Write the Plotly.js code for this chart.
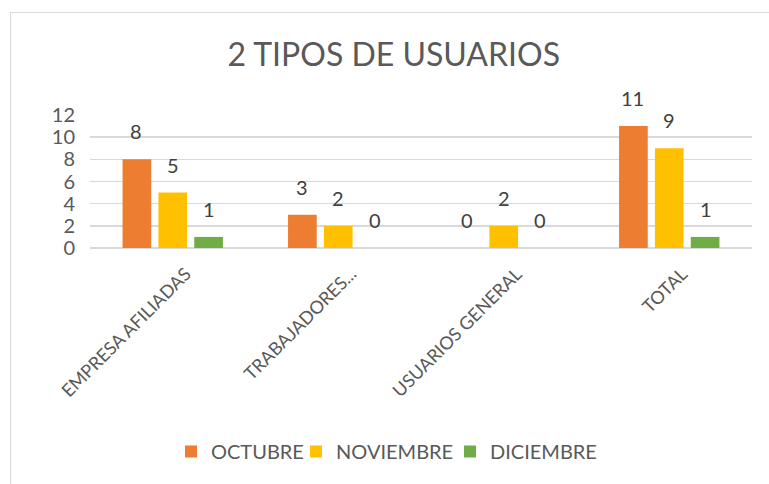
<!DOCTYPE html>
<html>
<head>
<meta charset="utf-8">
<script src="https://cdn.plot.ly/plotly-3.0.1.min.js"></script>
<style>
  html, body { margin: 0; padding: 0; background: #fff; }
  #wrap { position: relative; width: 769px; height: 484px; overflow: hidden; }
  #frame { position: absolute; left: 10px; top: 12px; width: 800px; height: 500px;
           border-left: 1px solid #d9d9d9; border-top: 1px solid #d9d9d9; pointer-events: none; }
  #chart { position: absolute; left: 0; top: 0; width: 769px; height: 484px; }
</style>
</head>
<body>
<div id="wrap">
  <div id="chart"></div>
  <div id="frame"></div>
</div>
<script>
const categories = ["EMPRESA AFILIADAS", "TRABAJADORES...", "USUARIOS GENERAL", "TOTAL"];
const seriesNames = ["OCTUBRE", "NOVIEMBRE", "DICIEMBRE"];
const octubre = [8, 3, 0, 11];
const noviembre = [5, 2, 2, 9];
const diciembre = [1, 0, 0, 1];
const colors = ["#ED7D31", "#FFC000", "#70AD47"];
const yTicks = [0, 2, 4, 6, 8, 10, 12];

const FONT = "Lato, 'Open Sans', sans-serif";
const TXT = "#595959";
const allSeries = [octubre, noviembre, diciembre];
const legendIds = ["legend", "legend2", "legend3"];
const legendLeftPx = [171, 296, 450];

const traces = allSeries.map((vals, i) => ({
  type: "bar",
  name: seriesNames[i],
  x: categories,
  y: vals,
  marker: { color: colors[i] },
  legend: legendIds[i],
  hoverinfo: "none"
}));

const annotations = [];
allSeries.forEach((vals, i) => {
  vals.forEach((v, j) => {
    annotations.push({
      x: categories[j], y: v, xref: "x", yref: "y",
      text: String(v), showarrow: false,
      xshift: (i - 1) * 36.5, yshift: 28,
      xanchor: "center", yanchor: "middle",
      font: { family: FONT, size: 20, color: "#404040" }
    });
  });
});

const plotL = 90, plotW = 662;
const layout = {
  width: 769, height: 484,
  paper_bgcolor: "rgba(0,0,0,0)", plot_bgcolor: "rgba(0,0,0,0)",
  margin: { l: plotL, r: 17, t: 115, b: 236 },
  barmode: "group", bargap: 0.35, bargroupgap: 0.2,
  title: {
    text: "2 TIPOS DE USUARIOS",
    font: { family: FONT, size: 32, color: TXT },
    x: 0.512, xref: "container", xanchor: "center",
    y: 0.886, yref: "container", yanchor: "middle"
  },
  xaxis: {
    type: "category",
    tickangle: -45,
    tickfont: { family: FONT, size: 18, color: TXT },
    showgrid: false, showline: false, zeroline: false,
    ticks: "", ticklabelstandoff: 11, ticklabelshift: 13
  },
  yaxis: {
    range: [0, 12],
    tickvals: yTicks,
    tickfont: { family: FONT, size: 20, color: TXT },
    gridcolor: "#d9d9d9", gridwidth: 1.5,
    zeroline: true, zerolinecolor: "#d9d9d9", zerolinewidth: 1.5,
    showline: false, ticks: "", ticklen: 0, ticklabelstandoff: 14
  },
  showlegend: true
};

legendIds.forEach((id, i) => {
  layout[id] = {
    orientation: "h",
    x: (legendLeftPx[i] - plotL) / plotW, xanchor: "left",
    y: -1.53, yanchor: "middle",
    bgcolor: "rgba(0,0,0,0)",
    font: { family: FONT, size: 20, color: TXT },
    itemclick: false, itemdoubleclick: false
  };
});
layout.annotations = annotations;

Plotly.newPlot("chart", traces, layout, { staticPlot: true, displayModeBar: false });
</script>
</body>
</html>
